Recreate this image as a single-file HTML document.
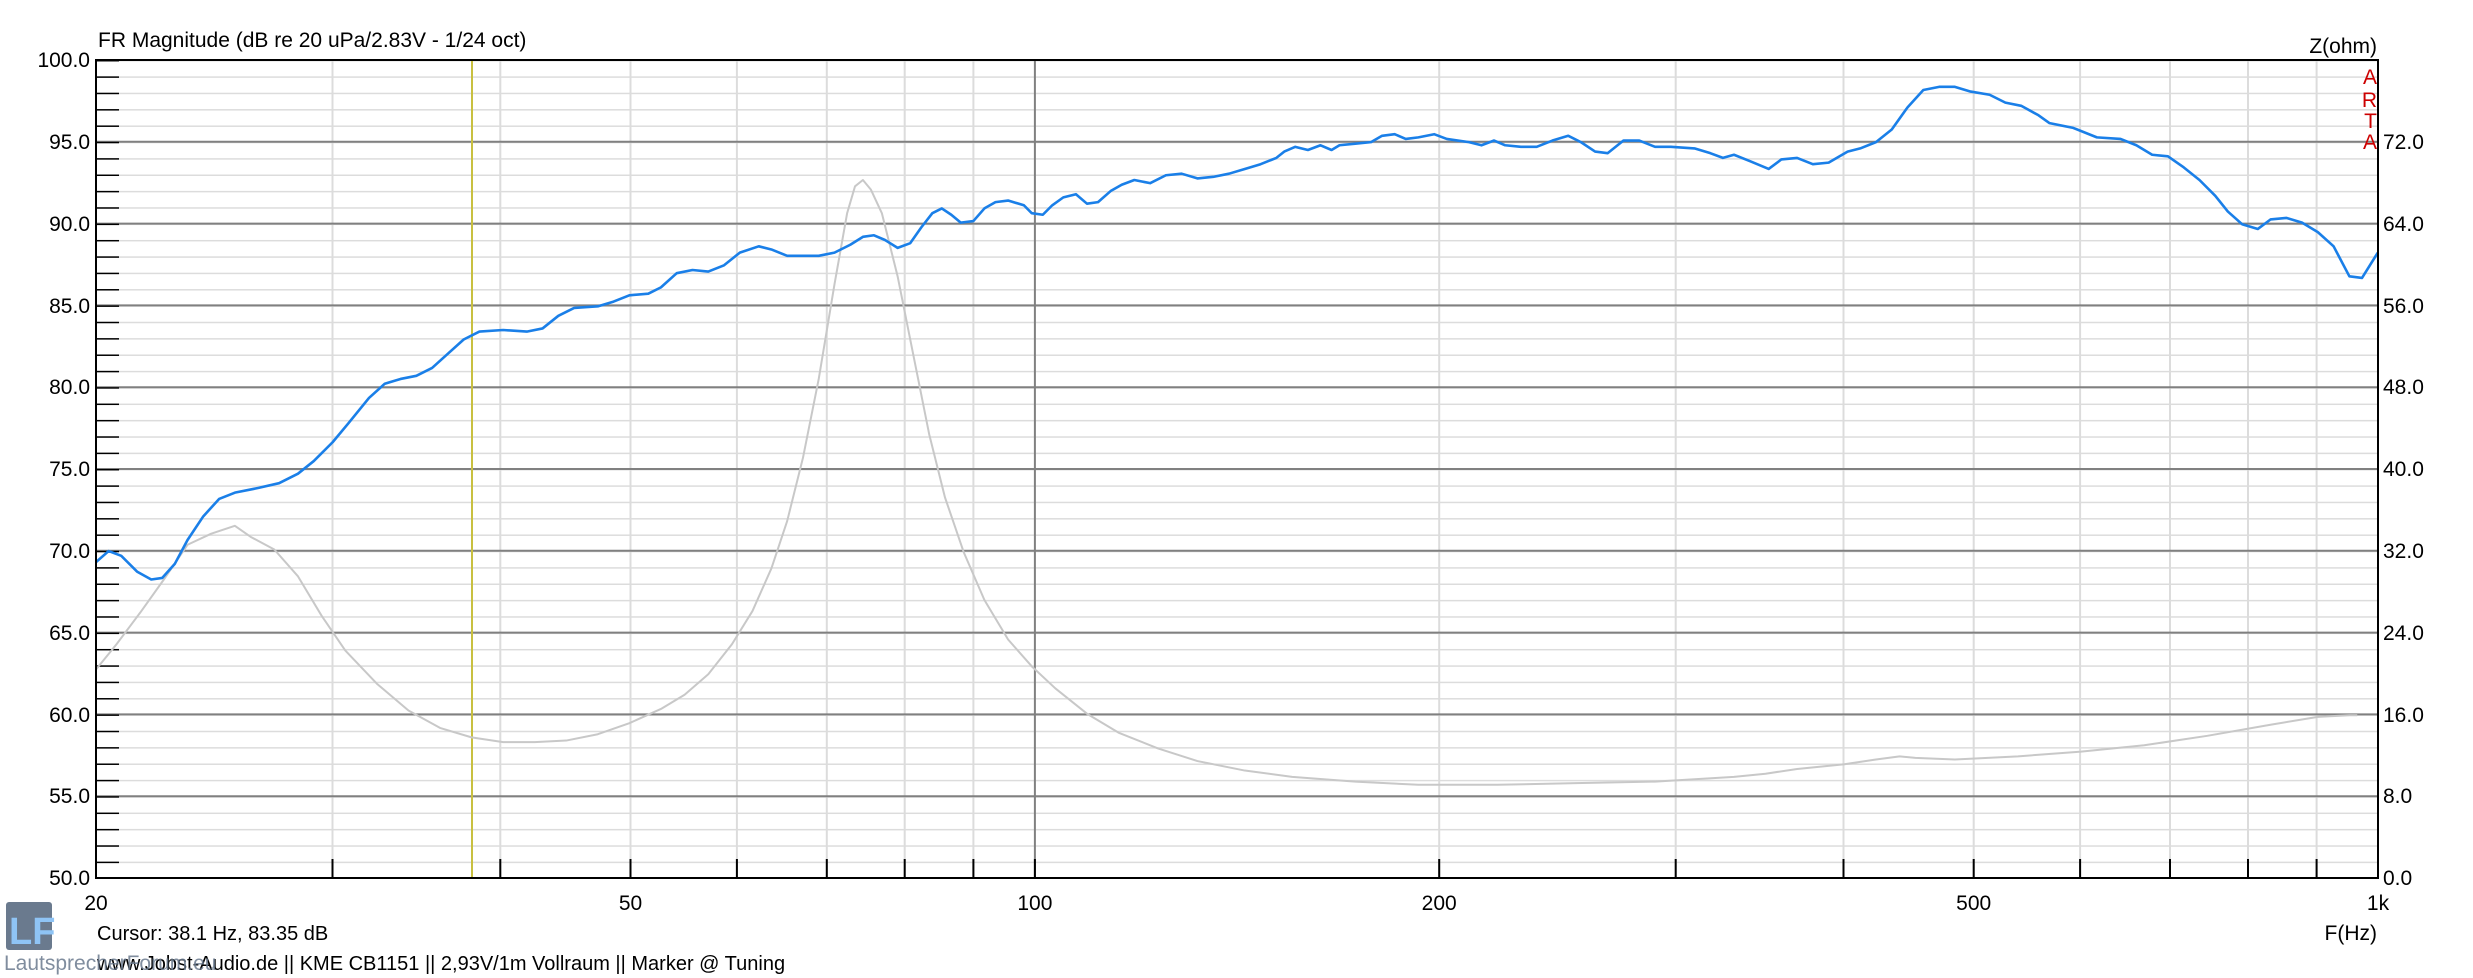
<!DOCTYPE html>
<html><head><meta charset="utf-8"><style>
html,body{margin:0;padding:0;background:#fff;}
svg{display:block;font-family:"Liberation Sans",Arial,sans-serif;}
</style></head><body>
<svg width="2473" height="978" viewBox="0 0 2473 978" xmlns="http://www.w3.org/2000/svg">
<defs>
<pattern id="hmin" patternUnits="userSpaceOnUse" x="0" y="60" width="10" height="16.36">
<line x1="0" y1="0.5" x2="10" y2="0.5" stroke="#dcdcdc" stroke-width="2"/>
</pattern>
<pattern id="htick" patternUnits="userSpaceOnUse" x="0" y="60" width="30" height="16.36">
<line x1="0" y1="0.5" x2="30" y2="0.5" stroke="#000" stroke-width="2"/>
</pattern>
</defs>
<rect x="0" y="0" width="2473" height="978" fill="#fff"/>
<rect x="96" y="60" width="2282" height="818" fill="url(#hmin)"/>
<g stroke="#dcdcdc" stroke-width="2">
<line x1="332.5" y1="60" x2="332.5" y2="878"/>
<line x1="500.3" y1="60" x2="500.3" y2="878"/>
<line x1="630.5" y1="60" x2="630.5" y2="878"/>
<line x1="736.9" y1="60" x2="736.9" y2="878"/>
<line x1="826.8" y1="60" x2="826.8" y2="878"/>
<line x1="904.7" y1="60" x2="904.7" y2="878"/>
<line x1="973.4" y1="60" x2="973.4" y2="878"/>
<line x1="1439.2" y1="60" x2="1439.2" y2="878"/>
<line x1="1675.7" y1="60" x2="1675.7" y2="878"/>
<line x1="1843.5" y1="60" x2="1843.5" y2="878"/>
<line x1="1973.7" y1="60" x2="1973.7" y2="878"/>
<line x1="2080.1" y1="60" x2="2080.1" y2="878"/>
<line x1="2170" y1="60" x2="2170" y2="878"/>
<line x1="2248" y1="60" x2="2248" y2="878"/>
<line x1="2316.6" y1="60" x2="2316.6" y2="878"/>
</g>
<g stroke="#808080" stroke-width="2">
<line x1="96" y1="141.8" x2="2378" y2="141.8"/>
<line x1="96" y1="223.6" x2="2378" y2="223.6"/>
<line x1="96" y1="305.4" x2="2378" y2="305.4"/>
<line x1="96" y1="387.2" x2="2378" y2="387.2"/>
<line x1="96" y1="469" x2="2378" y2="469"/>
<line x1="96" y1="550.8" x2="2378" y2="550.8"/>
<line x1="96" y1="632.6" x2="2378" y2="632.6"/>
<line x1="96" y1="714.4" x2="2378" y2="714.4"/>
<line x1="96" y1="796.2" x2="2378" y2="796.2"/>
<line x1="1034.9" y1="60" x2="1034.9" y2="878"/>
</g>
<line x1="472" y1="60" x2="472" y2="878" stroke="#c8c040" stroke-width="2"/>
<rect x="96" y="60" width="23" height="818" fill="url(#htick)"/>
<g stroke="#000" stroke-width="2">
<line x1="332.5" y1="859" x2="332.5" y2="878"/>
<line x1="500.3" y1="859" x2="500.3" y2="878"/>
<line x1="630.5" y1="859" x2="630.5" y2="878"/>
<line x1="736.9" y1="859" x2="736.9" y2="878"/>
<line x1="826.8" y1="859" x2="826.8" y2="878"/>
<line x1="904.7" y1="859" x2="904.7" y2="878"/>
<line x1="973.4" y1="859" x2="973.4" y2="878"/>
<line x1="1034.9" y1="859" x2="1034.9" y2="878"/>
<line x1="1439.2" y1="859" x2="1439.2" y2="878"/>
<line x1="1675.7" y1="859" x2="1675.7" y2="878"/>
<line x1="1843.5" y1="859" x2="1843.5" y2="878"/>
<line x1="1973.7" y1="859" x2="1973.7" y2="878"/>
<line x1="2080.1" y1="859" x2="2080.1" y2="878"/>
<line x1="2170" y1="859" x2="2170" y2="878"/>
<line x1="2248" y1="859" x2="2248" y2="878"/>
<line x1="2316.6" y1="859" x2="2316.6" y2="878"/>
</g>
<g transform="translate(96,60) scale(1.578,1.579) translate(-62,-38)" fill="none" stroke-linejoin="round">
<polyline vector-effect="non-scaling-stroke" stroke="#c8c8c8" stroke-width="2" points="62,424 75,408 90,388 105,367 120,345 135,338 150,333 160,340 175,348 190,365 205,390 220,412 240,433 260,450 280,461 300,467 320,470 340,470 360,469 380,465 400,458 420,449 435,440 450,427 465,408 478,387 490,360 500,330 510,290 520,240 530,180 538,135 543,118 548,114 553,120 560,135 570,175 580,225 590,275 600,315 612,350 625,380 640,405 655,422 670,436 690,452 710,464 735,474 760,482 790,488 820,492 860,495 900,497 950,497 1000,496 1050,495 1100,492 1120,490 1140,487 1170,484 1190,481 1205,479 1215,480 1240,481 1280,479 1320,476 1360,472 1400,466 1440,459 1470,454 1490,453 1495,453"/>
<polyline vector-effect="non-scaling-stroke" stroke="#1a7fe8" stroke-width="2.6" points="62,356 70,349 78,352 88,362 97,367 104,366 112,357 120,342 130,327 140,316 150,312 165,309 178,306 190,300 200,292 212,280 222,268 235,252 245,243 255,240 265,238 275,233 285,224 295,215 305,210 320,209 335,210 345,208 355,200 365,195 380,194 390,191 400,187 412,186 420,182 430,173 440,171 450,172 460,168 470,160 482,156 490,158 500,162 510,162 520,162 530,160 540,155 548,150 555,149 562,152 570,157 578,154 585,144 592,135 598,132 604,136 610,141 618,140 625,132 632,128 640,127 650,130 655,135 662,136 668,130 675,125 683,123 690,129 697,128 705,121 712,117 720,114 730,116 740,111 750,110 760,113 770,112 780,110 790,107 800,104 810,100 815,96 822,93 830,95 838,92 845,95 850,92 860,91 870,90 877,86 885,85 892,88 900,87 910,85 918,88 925,89 932,90 940,92 948,89 955,92 965,93 975,93 985,89 995,86 1003,90 1012,96 1020,97 1030,89 1040,89 1050,93 1060,93 1075,94 1085,97 1093,100 1100,98 1110,102 1122,107 1130,101 1140,100 1150,104 1160,103 1172,96 1180,94 1190,90 1200,82 1210,68 1220,57 1230,55 1240,55 1250,58 1262,60 1272,65 1282,67 1293,73 1300,78 1315,81 1330,87 1345,88 1355,92 1365,98 1375,99 1385,106 1395,114 1405,124 1413,134 1422,142 1432,145 1440,139 1450,138 1460,141 1470,147 1480,156 1490,175 1498,176 1508,160"/>
</g>
<rect x="96" y="60" width="2282" height="818" fill="none" stroke="#000" stroke-width="2"/>
<g font-size="21" fill="#000">
<text x="98" y="47">FR Magnitude (dB re 20 uPa/2.83V - 1/24 oct)</text>
<text x="2377" y="53" text-anchor="end">Z(ohm)</text>
<g text-anchor="end">
<text x="90" y="67">100.0</text>
<text x="90" y="149">95.0</text>
<text x="90" y="231">90.0</text>
<text x="90" y="313">85.0</text>
<text x="90" y="394">80.0</text>
<text x="90" y="476">75.0</text>
<text x="90" y="558">70.0</text>
<text x="90" y="640">65.0</text>
<text x="90" y="722">60.0</text>
<text x="90" y="803">55.0</text>
<text x="90" y="885">50.0</text>
</g>
<g>
<text x="2383" y="149">72.0</text>
<text x="2383" y="231">64.0</text>
<text x="2383" y="313">56.0</text>
<text x="2383" y="394">48.0</text>
<text x="2383" y="476">40.0</text>
<text x="2383" y="558">32.0</text>
<text x="2383" y="640">24.0</text>
<text x="2383" y="722">16.0</text>
<text x="2383" y="803">8.0</text>
<text x="2383" y="885">0.0</text>
</g>
<g text-anchor="middle">
<text x="96" y="910">20</text>
<text x="630.5" y="910">50</text>
<text x="1034.9" y="910">100</text>
<text x="1439.2" y="910">200</text>
<text x="1973.7" y="910">500</text>
<text x="2378" y="910">1k</text>
</g>
<text x="2377" y="940" text-anchor="end">F(Hz)</text>
<text x="97" y="940" font-size="20">Cursor: 38.1 Hz, 83.35 dB</text>
<text x="97" y="970" font-size="20">www.Jobst-Audio.de  ||  KME CB1151  ||  2,93V/1m Vollraum  || Marker @ Tuning</text>
</g>
<g fill="#cc0000" font-size="21" text-anchor="end">
<text x="2377" y="84">A</text>
<text x="2377" y="107">R</text>
<text x="2377" y="128">T</text>
<text x="2377" y="149">A</text>
</g>
<rect x="6" y="902" width="46" height="48" rx="3" fill="#6a7a8e"/>
<text x="9" y="944" font-size="38" fill="#8fc4f5" font-weight="bold">LF</text>
<text x="4" y="970" font-size="21" fill="#6a7a8e" opacity="0.85">LautsprecherForum.eu</text>
</svg>
</body></html>
